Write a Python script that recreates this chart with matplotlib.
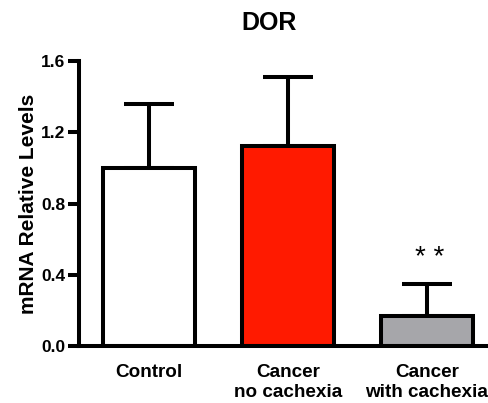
import matplotlib
matplotlib.use("Agg")
import matplotlib.pyplot as plt

categories = ["Control", "Cancer\nno cachexia", "Cancer\nwith cachexia"]
means = [1.0, 1.12, 0.17]
errors = [0.36, 0.39, 0.18]
colors = ["#ffffff", "#ff1a00", "#a6a6aa"]
yticks = [0.0, 0.4, 0.8, 1.2, 1.6]
title = "DOR"
ylabel = "mRNA Relative Levels"
annotation = "* *"

plt.rcParams["font.family"] = ["Liberation Sans", "DejaVu Sans"]
plt.rcParams["font.weight"] = "bold"

fig = plt.figure(figsize=(4.88, 4.03), dpi=100)
ax = fig.add_axes([79 / 488, 57 / 403, 409 / 488, 285 / 403])

x = list(range(len(categories)))
lw = 2.9
ax.bar(x, means, width=0.66, color=colors, edgecolor="black", linewidth=lw, zorder=2)
ax.errorbar(x, means, yerr=[[0] * len(x), errors], fmt="none", ecolor="black",
            elinewidth=lw, capsize=18, capthick=lw, zorder=1)

ax.text(x[2] + 0.02, means[2] + errors[2] + 0.07, annotation, ha="center", va="bottom",
        fontsize=20, fontweight="normal")

ax.set_xlim(-0.504, 2.44)
ax.set_ylim(0, 1.6)
ax.set_yticks(yticks)
ax.set_yticklabels([f"{v:.1f}" for v in yticks], fontsize=12.5, fontweight="bold")
ax.set_xticks(x)
ax.set_xticklabels(categories, fontsize=13.6, fontweight="bold", linespacing=1.25)
ax.tick_params(axis="x", length=0, pad=13)
ax.tick_params(axis="y", length=8, width=lw, direction="out", pad=2)
ax.set_ylabel(ylabel, fontsize=15, fontweight="bold", labelpad=2)

fig.text(269 / 488, 1 - 23 / 403, title, ha="center", va="center",
         fontsize=18, fontweight="bold")

for side in ("top", "right"):
    ax.spines[side].set_visible(False)
for side in ("left", "bottom"):
    ax.spines[side].set_linewidth(lw)

fig.savefig("out.png", dpi=100)
